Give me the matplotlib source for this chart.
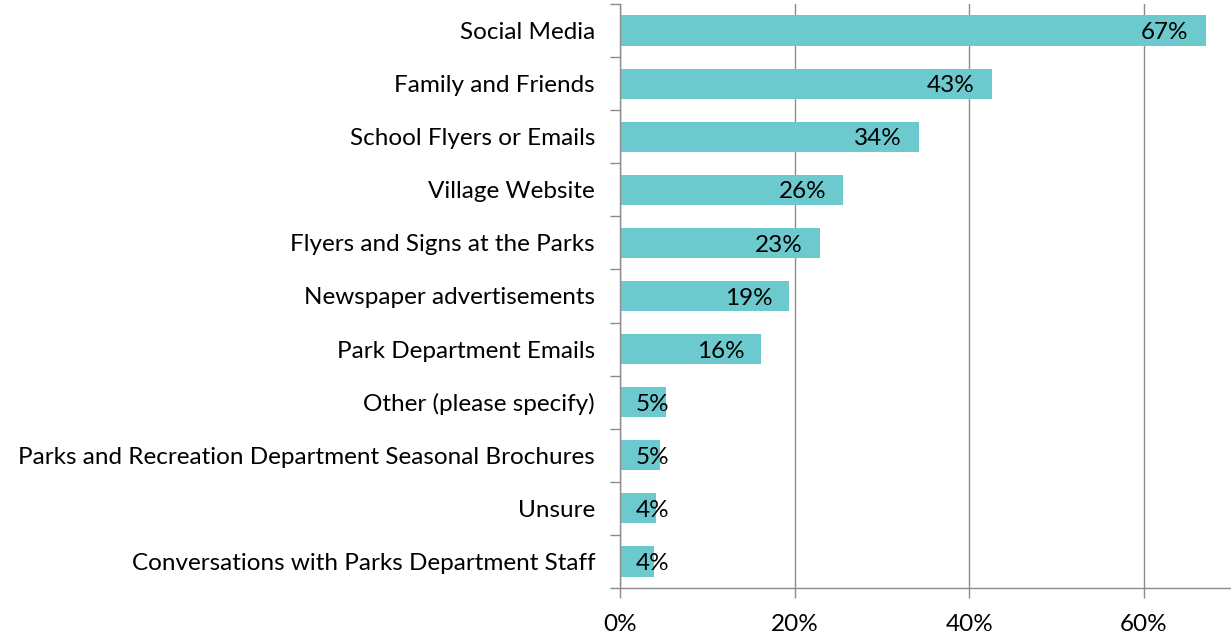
import numpy as np
import matplotlib.pyplot as plt

# Survey responses, top to bottom as shown
categories = ['Social Media', 'Family and Friends', 'School Flyers or Emails',
              'Village Website', 'Flyers and Signs at the Parks',
              'Newspaper advertisements', 'Park Department Emails',
              'Other (please specify)',
              'Parks and Recreation Department Seasonal Brochures',
              'Unsure', 'Conversations with Parks Department Staff']
values = [67.1, 42.6, 34.2, 25.6, 22.9, 19.4, 16.2, 5.3, 4.6, 4.1, 3.9]
xticks = [0, 20, 40, 60]

bar_color = '#6CC9CD'
grid_color = '#8C8C8C'

plt.rcParams['font.family'] = ['Lato', 'DejaVu Sans']

fig = plt.figure(figsize=(12.31, 6.36), dpi=100)
ax = fig.add_axes([620 / 1231, 1 - 588 / 636, 1 - 620 / 1231, 584 / 636])

y = np.arange(len(categories))
ax.barh(y, values, height=0.57, color=bar_color, zorder=2)

# Data labels at the inside end of each bar
for yi, v in zip(y, values):
    label = '%d%%' % round(v)
    if v < 8:
        ax.text(1.83, yi + 0.04, label, ha='left', va='center', fontsize=17.5, zorder=3)
    else:
        ax.text(v - 1.95, yi + 0.04, label, ha='right', va='center', fontsize=17.5, zorder=3)

ax.set_ylim(len(categories) - 0.5, -0.5)
ax.set_xlim(0, 70)
ax.set_yticks(y)
ax.set_yticklabels(categories, fontsize=17.5)
ax.set_yticks(np.arange(len(categories) + 1) - 0.5, minor=True)
ax.tick_params(axis='y', which='major', length=0, pad=18)
ax.tick_params(axis='y', which='minor', length=7, color=grid_color, width=1)

ax.set_xticks(xticks)
ax.set_xticklabels(['%d%%' % t for t in xticks], fontsize=17.5)
ax.tick_params(axis='x', length=7, color=grid_color, width=1, pad=12)
ax.grid(axis='x', color=grid_color, linewidth=1, zorder=0)

for side in ['top', 'right']:
    ax.spines[side].set_visible(False)
for side in ['left', 'bottom']:
    ax.spines[side].set_color(grid_color)
    ax.spines[side].set_linewidth(1)

fig.savefig('out.png', dpi=100)
